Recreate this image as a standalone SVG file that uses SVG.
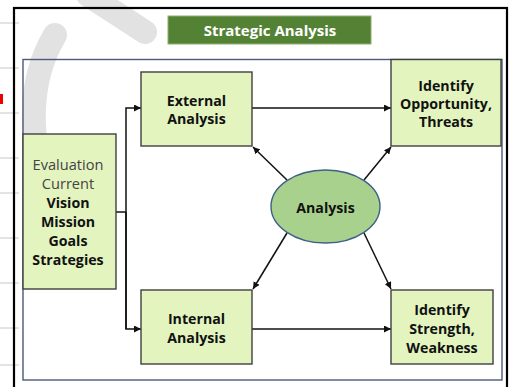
<svg xmlns="http://www.w3.org/2000/svg" width="509" height="387" viewBox="0 0 509 387">
<style>
.box{fill:#e3f4bf;stroke:#3f3f3f;stroke-width:1.4}
.t{font-family:"Open Sans","DejaVu Sans",sans-serif;font-weight:bold;font-size:14.2px;fill:#111;text-anchor:middle;dominant-baseline:central}
.tn{font-family:"Open Sans","DejaVu Sans",sans-serif;font-size:14.6px;fill:#444;text-anchor:middle;dominant-baseline:central}
.c{fill:none;stroke:#111;stroke-width:1.5}
.g{stroke:#c8c8c8;stroke-width:1}
</style>
<defs>
<marker id="a" viewBox="0 0 10 10" refX="10" refY="5" markerWidth="7" markerHeight="7" markerUnits="userSpaceOnUse" orient="auto">
<path d="M0,0 L10,5 L0,10 z" fill="#111"/>
</marker>
</defs>
<rect width="509" height="387" fill="#fff"/>
<g id="margin">
<line class="g" x1="0" y1="23" x2="19" y2="23"/>
<line class="g" x1="0" y1="68" x2="19" y2="68"/>
<line class="g" x1="0" y1="113" x2="19" y2="113"/>
<line class="g" x1="0" y1="158" x2="19" y2="158"/>
<line class="g" x1="0" y1="193" x2="19" y2="193"/>
<line class="g" x1="0" y1="238" x2="19" y2="238"/>
<line class="g" x1="0" y1="283" x2="19" y2="283"/>
<line class="g" x1="0" y1="328" x2="19" y2="328"/>
<line class="g" x1="0" y1="365" x2="19" y2="365"/>
<rect x="0" y="94" width="3" height="10" fill="#e00"/>
</g>
<g id="watermark" fill="none" stroke="#e2e2e2" stroke-width="24" stroke-linecap="round">
<path d="M48 190 C 28 140, 28 80, 55 35"/>
<path d="M88 -5 L 145 32"/>
</g>
<rect x="14" y="8" width="493" height="385" fill="none" stroke="#000" stroke-width="2.2"/>
<rect x="23" y="59.5" width="479" height="320.5" fill="none" stroke="#4a5a78" stroke-width="1.4"/>
<g id="title">
<rect x="168" y="16" width="203" height="28" fill="#548235" stroke="#8fae6f" stroke-width="1"/>
<text class="t" x="270" y="30" style="fill:#fff;font-size:15px">Strategic Analysis</text>
</g>
<g id="connectors">
<polyline class="c" points="116,212 126,212"/>
<polyline class="c" points="126,329 126,108 141,108" marker-end="url(#a)"/>
<polyline class="c" points="126,212 126,329 141,329" marker-end="url(#a)"/>
<line class="c" x1="252" y1="108" x2="391" y2="108" marker-end="url(#a)"/>
<line class="c" x1="252" y1="329" x2="391" y2="329" marker-end="url(#a)"/>
<line class="c" x1="287" y1="180" x2="253" y2="147" marker-end="url(#a)"/>
<line class="c" x1="364" y1="180" x2="391" y2="147" marker-end="url(#a)"/>
<line class="c" x1="287" y1="233" x2="253" y2="289" marker-end="url(#a)"/>
<line class="c" x1="364" y1="233" x2="391" y2="289" marker-end="url(#a)"/>
</g>
<g id="external">
<rect class="box" x="141" y="72" width="111" height="74"/>
<text class="t" x="196.5" y="100">External</text>
<text class="t" x="196.5" y="118">Analysis</text>
</g>
<g id="opportunity">
<rect class="box" x="391" y="59.5" width="110" height="86.5"/>
<text class="t" x="446" y="85">Identify</text>
<text class="t" x="446" y="103">Opportunity,</text>
<text class="t" x="446" y="121">Threats</text>
</g>
<g id="evaluation">
<rect class="box" x="23" y="134" width="93" height="155"/>
<text class="tn" x="68" y="164">Evaluation</text>
<text class="tn" x="68" y="183">Current</text>
<text class="t" x="68" y="202">Vision</text>
<text class="t" x="68" y="221">Mission</text>
<text class="t" x="68" y="240">Goals</text>
<text class="t" x="68" y="259">Strategies</text>
</g>
<g id="analysis">
<ellipse cx="325.5" cy="206.5" rx="54.5" ry="36.5" fill="#a9d18e" stroke="#3f5f86" stroke-width="1.4"/>
<text class="t" x="325.5" y="207">Analysis</text>
</g>
<g id="internal">
<rect class="box" x="141" y="290" width="111" height="74"/>
<text class="t" x="196.5" y="318">Internal</text>
<text class="t" x="196.5" y="337">Analysis</text>
</g>
<g id="strength">
<rect class="box" x="391" y="290" width="102" height="74"/>
<text class="t" x="442" y="309">Identify</text>
<text class="t" x="442" y="328">Strength,</text>
<text class="t" x="442" y="347">Weakness</text>
</g>
</svg>
